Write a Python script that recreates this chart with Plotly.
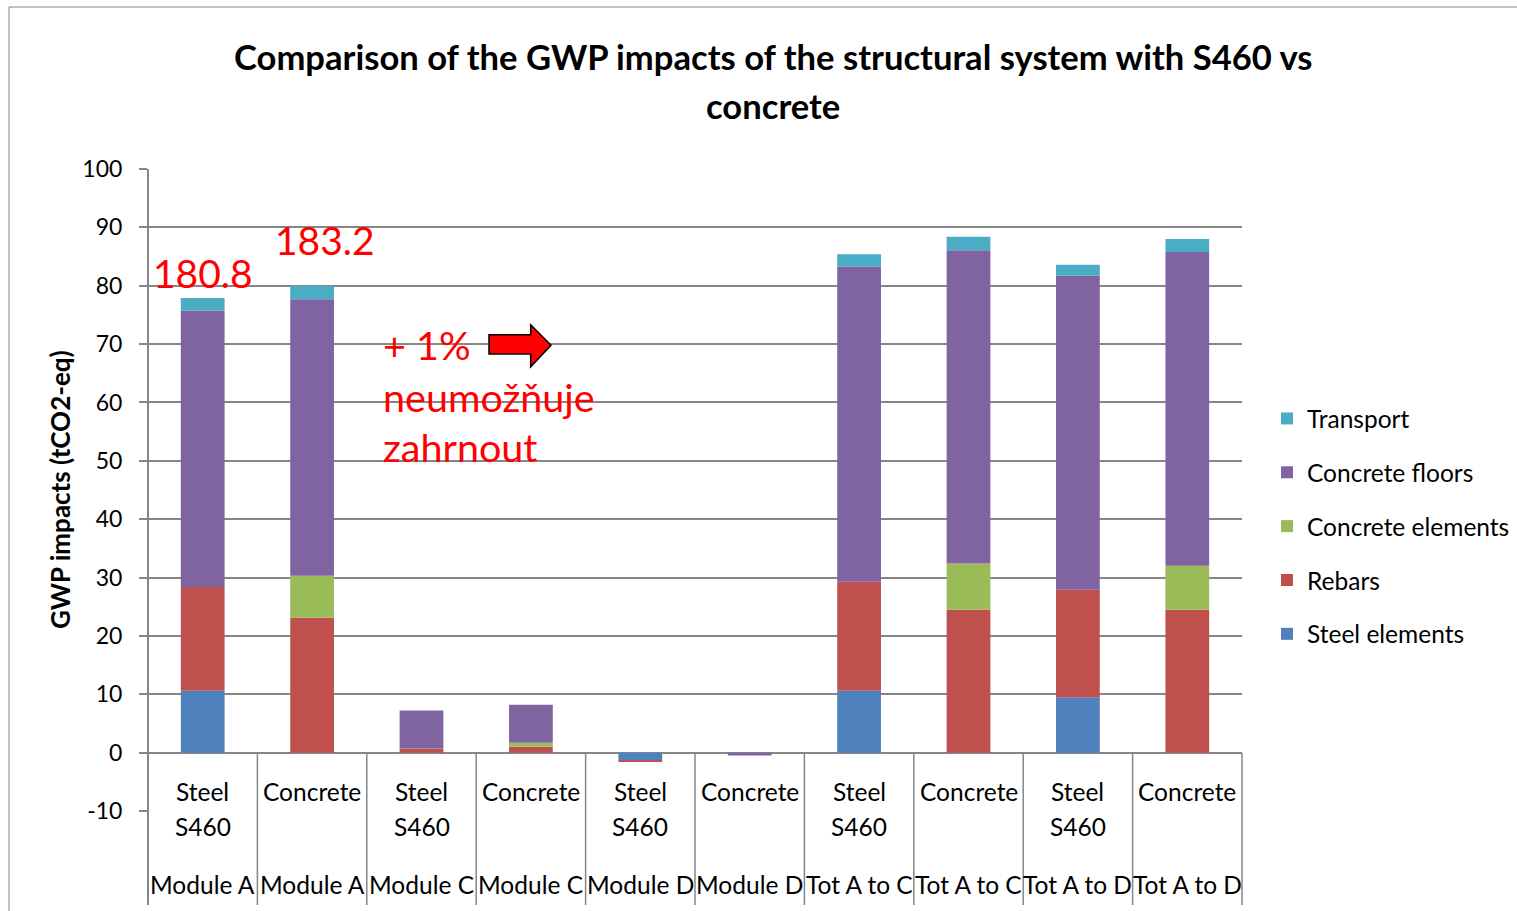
import plotly.graph_objects as go

# Category table (three label rows under each bar)
material = ["Steel", "Concrete", "Steel", "Concrete", "Steel", "Concrete",
            "Steel", "Concrete", "Steel", "Concrete"]
grade = ["S460", "", "S460", "", "S460", "", "S460", "", "S460", ""]
stage = ["Module A", "Module A", "Module C", "Module C", "Module D", "Module D",
         "Tot A to C", "Tot A to C", "Tot A to D", "Tot A to D"]

# GWP impacts (tCO2-eq) per component
steel_elements = [10.6, 0.0, 0.0, 0.0, -1.3, 0.0, 10.6, 0.0, 9.5, 0.0]
rebars = [17.8, 23.1, 0.7, 1.0, -0.2, 0.0, 18.7, 24.5, 18.4, 24.5]
concrete_elements = [0.0, 7.2, 0.0, 0.7, 0.0, 0.0, 0.0, 7.9, 0.0, 7.5]
concrete_floors = [47.3, 47.4, 6.5, 6.5, 0.0, -0.5, 54.0, 53.7, 53.8, 53.8]
transport = [2.2, 2.3, 0.0, 0.0, 0.0, 0.0, 2.1, 2.3, 1.9, 2.2]

series_names = ["Steel elements", "Rebars", "Concrete elements", "Concrete floors", "Transport"]
series_values = [steel_elements, rebars, concrete_elements, concrete_floors, transport]
series_colors = ["#4F81BD", "#C0504D", "#9BBB59", "#8064A2", "#4BACC6"]

# Y axis ticks
y_ticks = [-10, 0, 10, 20, 30, 40, 50, 60, 70, 80, 90, 100]
y_tick_labels = ["-10", "0", "10", "20", "30", "40", "50", "60", "70", "80", "90", "100"]

# Hand-written notes placed on the chart
note_totals = ["180.8", "183.2"]
note_text = ["+ 1%", "neumožňuje", "zahrnout"]

FONT = "Lato"
GRID = "#868686"

n = len(material)
xs = list(range(n))

fig = go.Figure()
for k, (name, vals, col) in enumerate(zip(series_names, series_values, series_colors)):
    fig.add_trace(go.Bar(
        x=xs, y=vals, name=name, marker=dict(color=col, line=dict(width=0)),
        width=0.4, legendgroup=name, legendrank=100 - k,
    ))

W, H = 1517, 911
ml, mr, mt, mb = 148, 275, 169, 100
plot_h = H - mt - mb

def py(pixel_y):
    """Convert a pixel row to paper y."""
    return (H - mb - pixel_y) / plot_h

def px(pixel_x):
    return (pixel_x - ml) / (W - ml - mr)

annotations = []
# Title (two lines)
for txt, yy in [("Comparison of the GWP impacts of the structural system with S460 vs", 57),
                ("concrete", 106)]:
    annotations.append(dict(text=txt, xref="paper", yref="paper", x=px(773), y=py(yy),
                            showarrow=False, xanchor="center", yanchor="middle",
                            font=dict(family=FONT, size=34.6, color="#000000", weight="bold")))

# Y axis title
annotations.append(dict(text="GWP impacts (tCO2-eq)", xref="paper", yref="paper",
                        x=px(60), y=0.5, textangle=-90, showarrow=False,
                        xanchor="center", yanchor="middle",
                        font=dict(family=FONT, size=26, color="#000000", weight="bold")))

# Category labels
for i in range(n):
    for txt, yy in [(material[i], 791), (grade[i], 826), (stage[i], 885)]:
        if txt:
            annotations.append(dict(text=txt, xref="x", yref="paper", x=i, y=py(yy),
                                    showarrow=False, xanchor="center", yanchor="middle",
                                    font=dict(family=FONT, size=24.5, color="#000000")))

# Red notes
red = "#FF0000"
annotations.append(dict(text=note_totals[0], xref="x", yref="y", x=0, y=82.2,
                        showarrow=False, xanchor="center", yanchor="middle",
                        font=dict(family=FONT, size=39, color=red)))
annotations.append(dict(text=note_totals[1], xref="x", yref="y", x=1.12, y=87.8,
                        showarrow=False, xanchor="center", yanchor="middle",
                        font=dict(family=FONT, size=39, color=red)))
for txt, yv in zip(note_text, [69.9, 61.1, 52.4]):
    annotations.append(dict(text=txt, xref="x", yref="y", x=1.63, y=yv,
                            showarrow=False, xanchor="left", yanchor="middle",
                            font=dict(family=FONT, size=39.5, color=red)))

shapes = []
# Outer chart border
shapes.append(dict(type="rect", xref="paper", yref="paper",
                   x0=px(9), x1=px(1530), y0=py(930), y1=py(7),
                   line=dict(color=GRID, width=1), fillcolor="rgba(0,0,0,0)", layer="below"))
# Left axis line, running down through the category table
shapes.append(dict(type="line", xref="paper", yref="paper", x0=0, x1=0,
                   y0=py(905), y1=1, line=dict(color=GRID, width=2)))
# Category table separators
for k in range(1, n + 1):
    shapes.append(dict(type="line", xref="paper", yref="paper", x0=k / n, x1=k / n,
                       y0=py(905), y1=py(753), line=dict(color=GRID, width=1.5)))
# Block arrow
arrow = ("M 2.617 71.6 L 2.998 71.6 L 2.998 73.3 L 3.184 69.8 "
         "L 2.998 66.1 L 2.998 68.3 L 2.617 68.3 Z")
shapes.append(dict(type="path", xref="x", yref="y", path=arrow,
                   fillcolor="#FF0000", line=dict(color="#000000", width=1.5)))

fig.update_layout(
    width=W, height=H,
    margin=dict(l=ml, r=mr, t=mt, b=mb, autoexpand=False),
    paper_bgcolor="#FFFFFF", plot_bgcolor="#FFFFFF",
    barmode="relative",
    font=dict(family=FONT, color="#000000"),
    showlegend=True,
    legend=dict(x=px(1267), y=py(396), xanchor="left", yanchor="top",
                traceorder="grouped", tracegroupgap=19,
                font=dict(family=FONT, size=24.5, color="#000000"),
                bgcolor="rgba(0,0,0,0)", itemclick=False),
    annotations=annotations,
    shapes=shapes,
)
fig.update_xaxes(range=[-0.5, n - 0.5], showticklabels=False, showgrid=False,
                 zeroline=False, showline=False, ticks="", fixedrange=True)
fig.update_yaxes(range=[-10, 100], tickvals=y_ticks, ticktext=y_tick_labels,
                 showgrid=True, gridcolor=GRID,
                 gridwidth=2, zeroline=True, zerolinecolor=GRID, zerolinewidth=2,
                 showline=False, ticks="outside", ticklen=8, tickcolor=GRID, tickwidth=2,
                 ticklabelstandoff=12,
                 tickfont=dict(family=FONT, size=23, color="#000000"), fixedrange=True)

fig.write_html("out.html")
